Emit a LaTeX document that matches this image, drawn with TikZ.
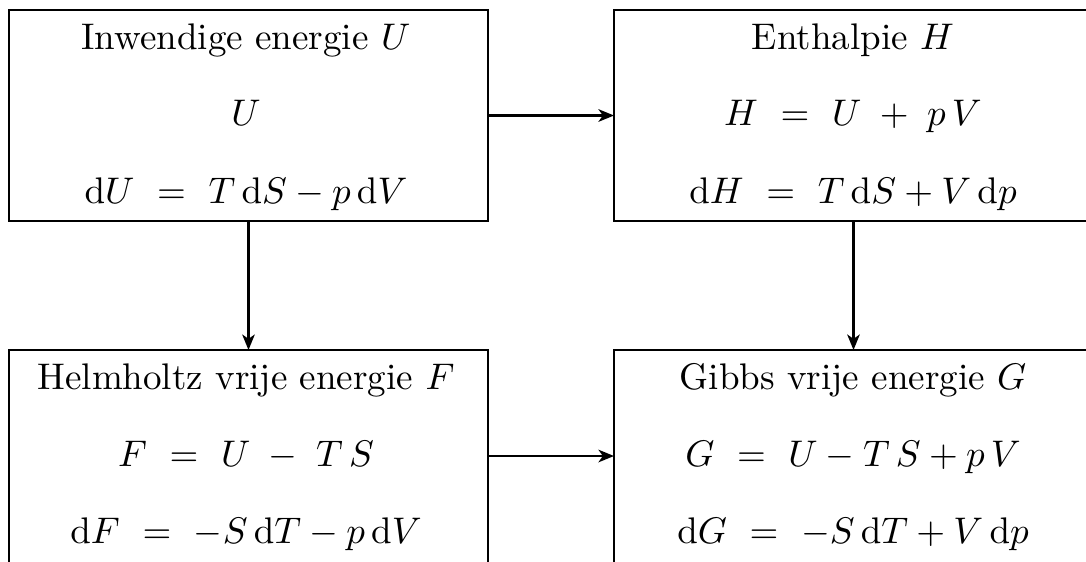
\documentclass[tikz,border=0pt]{standalone}
\usetikzlibrary{arrows.meta}
\begin{document}
\begin{tikzpicture}[x=0.27pt,y=-0.27pt,
  box/.style={draw=black,line width=0.8pt,rectangle,inner sep=0pt,outer sep=0pt},
  txt/.style={anchor=base,inner sep=0pt,font=\normalsize},
  conn/.style={line width=0.6pt,-{Stealth[length=4.2pt,width=3.4pt,inset=1.2pt]}}]
\useasboundingbox (0,0) rectangle (1086,561);
\begin{scope}
\clip (-5,-5) rectangle (1086,561);
\node[box,minimum width=479*0.27pt,minimum height=211*0.27pt] (A) at (248.5,115.5) {};
\node[box,minimum width=700*0.27pt,minimum height=211*0.27pt] (B) at (964,115.5) {};
\node[box,minimum width=479*0.27pt,minimum height=300*0.27pt] (C) at (248.5,500) {};
\node[box,minimum width=700*0.27pt,minimum height=300*0.27pt] (D) at (964,500) {};
\end{scope}
\coordinate (bx) at (853.5,0);
\coordinate (cy) at (0,456);
% texts A
\node[txt] (a1) at (246,49) {Inwendige energie $U$};
\node[txt] (a2) at (246,125) {$U$};
\node[txt] (a3) at (246,203) {$\mathrm{d}U\ =\ T\,\mathrm{d}S - p\,\mathrm{d}V$};
% texts B
\node[txt] (b1) at (853,49) {Enthalpie $H$};
\node[txt] (b2) at (853,125) {$H\ =\ U\;+\;p\,V$};
\node[txt] (b3) at (853,203) {$\mathrm{d}H\ =\ T\,\mathrm{d}S + V\,\mathrm{d}p$};
% texts C
\node[txt] (c1) at (246,389) {Helmholtz vrije energie $F$};
\node[txt] (c2) at (246,466) {$F\ =\ U\;-\;T\,S$};
\node[txt] (c3) at (246,543) {$\mathrm{d}F\ =\ -S\,\mathrm{d}T - p\,\mathrm{d}V$};
% texts D
\node[txt] (d1) at (853,389) {Gibbs vrije energie $G$};
\node[txt] (d2) at (853,466) {$G\ =\ U - T\,S + p\,V$};
\node[txt] (d3) at (853,543) {$\mathrm{d}G\ =\ -S\,\mathrm{d}T + V\,\mathrm{d}p$};
% connectors
\draw[conn] (A.east) -- (B.west |- A.east);
\draw[conn] (C.east |- cy) -- (D.west |- cy);
\draw[conn] (A.south) -- (C.north -| A.south);
\draw[conn] (B.south -| bx) -- (D.north -| bx);
\end{tikzpicture}
\end{document}
